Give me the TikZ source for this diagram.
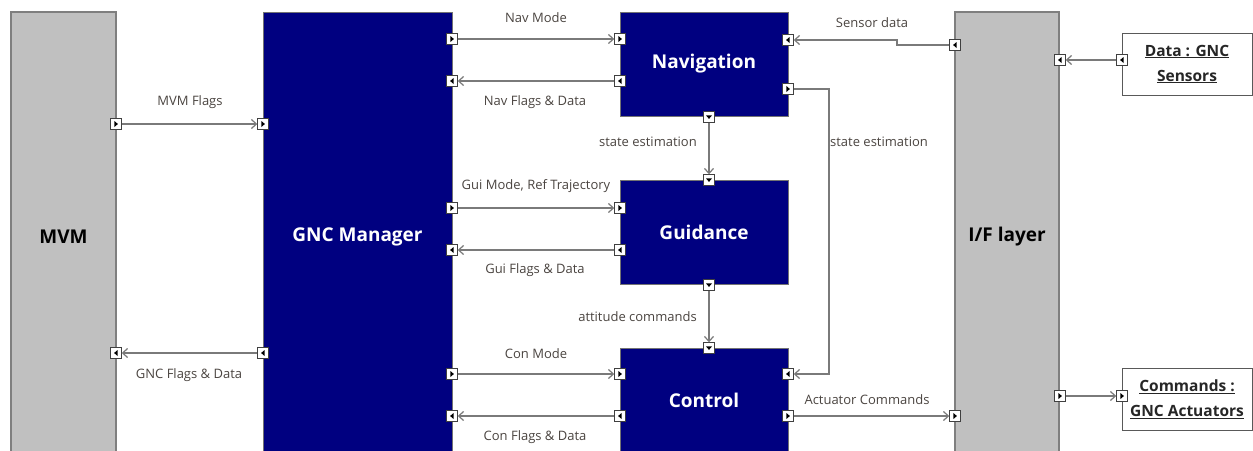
\documentclass[tikz,border=0pt]{standalone}
\usepackage{fontspec}
\setmainfont{Open Sans}
\usetikzlibrary{arrows.meta,calc}
\definecolor{navy}{HTML}{000080}
\definecolor{blockgray}{HTML}{C0C0C0}
\definecolor{edgegray}{HTML}{7F7F7F}
\definecolor{linegray}{HTML}{7A7A7A}
\definecolor{labelgray}{HTML}{4A4440}
\begin{document}
\begin{tikzpicture}[x=1pt,y=-1pt,
 navybox/.style={draw=black!55, line width=1pt, fill=navy, text=white, font=\bfseries\fontsize{19}{22}\selectfont, inner sep=0pt},
 graybox/.style={draw=edgegray, line width=1.5pt, fill=blockgray, text=black, font=\bfseries\fontsize{19}{22}\selectfont, inner sep=0pt},
 extbox/.style={draw=black!65, line width=1pt, fill=white, text=black!85, font=\bfseries\fontsize{15.5}{25}\selectfont, align=center, inner sep=0pt},
 port/.style={draw=black!75, fill=white, line width=0.9pt, minimum size=10.5pt, inner sep=0pt},
 pR/.style={port, path picture={\fill[black] ($(path picture bounding box.center)+(-1.6,-3)$) -- ++(3.5,3) -- ++(-3.5,3) -- cycle;}},
 pL/.style={port, path picture={\fill[black] ($(path picture bounding box.center)+(1.6,-3)$) -- ++(-3.5,3) -- ++(3.5,3) -- cycle;}},
 pD/.style={port, path picture={\fill[black] ($(path picture bounding box.center)+(-3,-1.6)$) -- ++(6,0) -- ++(-3,3.5) -- cycle;}},
 conn/.style={draw=linegray, line width=1.3pt, -{Straight Barb[length=5pt,width=9pt,line width=1.2pt]}},
 lbl/.style={text=labelgray, font=\fontsize{13}{15}\selectfont, inner sep=1pt}
]
\path[use as bounding box, clip] (0,0) rectangle (1253,450);

% blocks
\node[graybox, minimum width=105, minimum height=450] (mvm) at (63.5,237) {MVM};
\node[navybox, minimum width=189, minimum height=450] (gnc) at (357.5,237) {GNC Manager};
\node[navybox, minimum width=168, minimum height=104] (nav) at (704,64) {Navigation};
\node[navybox, minimum width=168, minimum height=104] (gui) at (704,232) {Guidance};
\node[navybox, minimum width=168, minimum height=104] (con) at (704,400) {Control};
\node[graybox, minimum width=104, minimum height=450] (ifl) at (1007,237) {I/F layer};
\node[extbox, minimum width=130, minimum height=62] (sens) at (1187,64) {\underline{Data : GNC}\\\underline{Sensors}};
\node[extbox, minimum width=130, minimum height=62] (act) at (1187,399.5) {\underline{Commands :}\\\underline{GNC Actuators}};

% ports
\node[pR] (mvmo) at (116,124) {};
\node[pL] (mvmi) at (116,353) {};
\node[pR] (gmi) at (263,124) {};
\node[pL] (gmo) at (263,353) {};
\node[pR] (gnm) at (452,39) {};
\node[pL] (gnf) at (452,81) {};
\node[pR] (ggm) at (452,208) {};
\node[pL] (ggf) at (452,250) {};
\node[pR] (gcm) at (452,374) {};
\node[pL] (gcf) at (452,416) {};
\node[pR] (navm) at (620,39) {};
\node[pL] (navf) at (620,81) {};
\node[pL] (navsd) at (788,40) {};
\node[pR] (navse) at (788,89) {};
\node[pD] (navb) at (709,117) {};
\node[pD] (guit) at (709,180) {};
\node[pR] (guim) at (620,208) {};
\node[pL] (guif) at (620,250) {};
\node[pD] (guib) at (709,285) {};
\node[pD] (cont) at (709,348) {};
\node[pR] (conm) at (620,374) {};
\node[pL] (conf) at (620,416) {};
\node[pL] (conse) at (788,374) {};
\node[pR] (conac) at (788,416) {};
\node[pL] (ifsd) at (955,45) {};
\node[pR] (ifac) at (955,416) {};
\node[pL] (ifsi) at (1060,60) {};
\node[pR] (ifco) at (1060,396) {};
\node[pL] (senso) at (1122,60) {};
\node[pR] (acti) at (1122,396) {};

% connectors
\draw[conn] (mvmo) -- (gmi);
\draw[conn] (gmo) -- (mvmi);
\draw[conn] (gnm) -- (navm);
\draw[conn] (navf) -- (gnf);
\draw[conn] (ggm) -- (guim);
\draw[conn] (guif) -- (ggf);
\draw[conn] (gcm) -- (conm);
\draw[conn] (conf) -- (gcf);
\draw[conn] (navb) -- (guit);
\draw[conn] (guib) -- (cont);
\draw[conn] (ifsd.west) -- (897,45) |- (navsd.east);
\draw[conn] (navse.east) -| (829,374) -- (conse.east);
\draw[conn] (conac) -- (ifac);
\draw[conn] (senso) -- (ifsi);
\draw[conn] (ifco) -- (acti);

% labels
\node[lbl] at (190,102) {MVM Flags};
\node[lbl] at (189,375) {GNC Flags \& Data};
\node[lbl] at (536,18) {Nav Mode};
\node[lbl] at (535,102) {Nav Flags \& Data};
\node[lbl] at (536,186) {Gui Mode, Ref Trajectory};
\node[lbl] at (535,270) {Gui Flags \& Data};
\node[lbl] at (536,354) {Con Mode};
\node[lbl] at (535,437) {Con Flags \& Data};
\node[lbl, anchor=east] at (698,142) {state estimation};
\node[lbl, anchor=east] at (698,317) {attitude commands};
\node[lbl] at (872,23) {Sensor data};
\node[lbl, anchor=west] at (829,142) {state estimation};
\node[lbl] at (867,400) {Actuator Commands};
\end{tikzpicture}
\end{document}
